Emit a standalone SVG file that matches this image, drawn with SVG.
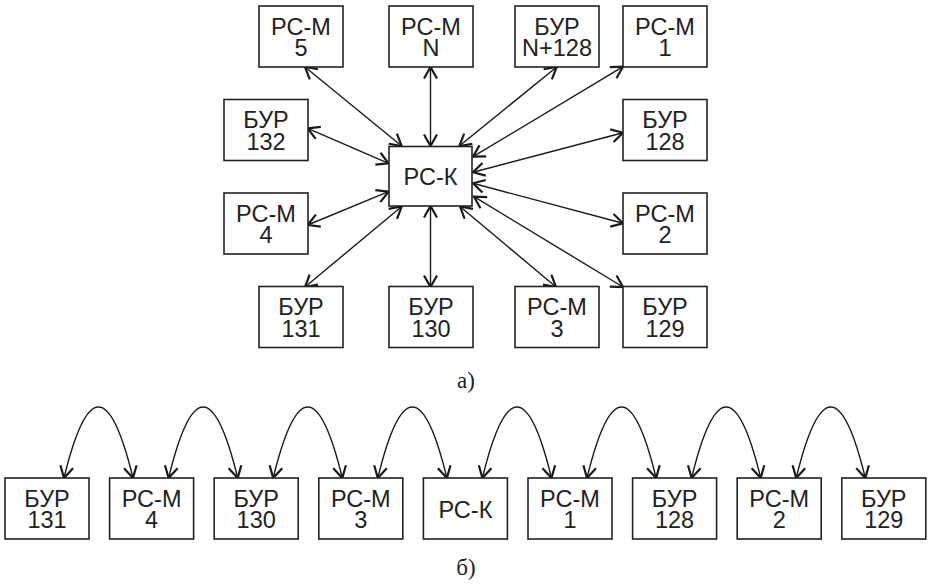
<svg xmlns="http://www.w3.org/2000/svg" width="928" height="584" viewBox="0 0 928 584">
<defs>
<marker id="ah" viewBox="-14 -9 16 18" refX="0" refY="0" markerWidth="16" markerHeight="18" markerUnits="userSpaceOnUse" orient="auto-start-reverse">
<path d="M-11.5,-6.5 L0,0 L-11.5,6.5" fill="none" stroke="#1a1a1a" stroke-width="2.2"/>
</marker>
<style>
.b{fill:#fff;stroke:#222;stroke-width:1.6}
.t{font-family:"Liberation Sans",Arial,sans-serif;font-size:23.5px;fill:#222;text-anchor:middle}
.c{fill:none;stroke:#1a1a1a;stroke-width:1.4;marker-start:url(#ah);marker-end:url(#ah)}
.l{font-family:"Liberation Serif","Times New Roman",serif;font-size:23px;fill:#222;text-anchor:middle}
</style>
</defs>
<rect width="928" height="584" fill="#fff"/>
<g id="connectors">
<line class="c" x1="305" y1="67" x2="401.7" y2="146"/>
<line class="c" x1="430.5" y1="67" x2="430.5" y2="146"/>
<line class="c" x1="307.7" y1="128.3" x2="388.5" y2="163.3"/>
<line class="c" x1="556.7" y1="67" x2="459.3" y2="146"/>
<line class="c" x1="623" y1="66.7" x2="473" y2="156.7"/>
<line class="c" x1="623" y1="132.7" x2="473" y2="172.3"/>
<line class="c" x1="623" y1="223.3" x2="473" y2="183.3"/>
<line class="c" x1="623" y1="287" x2="474" y2="196.7"/>
<line class="c" x1="556" y1="287" x2="460" y2="206.5"/>
<line class="c" x1="430.5" y1="206" x2="430.5" y2="287"/>
<line class="c" x1="305" y1="287" x2="401.7" y2="206.5"/>
<line class="c" x1="307.7" y1="225" x2="388.5" y2="191.7"/>
<path class="c" d="M64,478 Q98.5,336 133,478"/>
<path class="c" d="M168.6,478 Q203.1,336 237.7,478"/>
<path class="c" d="M273.2,478 Q307.8,336 342.3,478"/>
<path class="c" d="M377.8,478 Q412.4,336 446.9,478"/>
<path class="c" d="M482.4,478 Q517,336 551.5,478"/>
<path class="c" d="M587,478 Q621.6,336 656.1,478"/>
<path class="c" d="M691.6,478 Q726.2,336 760.7,478"/>
<path class="c" d="M796.2,478 Q830.8,336 865.3,478"/>
</g>
<g id="rsm5"><rect class="b" x="259" y="6" width="84" height="61"/><text class="t"><tspan x="301" y="34.5">РС-М</tspan><tspan x="301" y="56">5</tspan></text></g>
<g id="rsmN"><rect class="b" x="389" y="6" width="84" height="61"/><text class="t"><tspan x="431" y="34.5">РС-М</tspan><tspan x="431" y="56">N</tspan></text></g>
<g id="burN128"><rect class="b" x="515" y="6" width="84" height="61"/><text class="t"><tspan x="557" y="34.5">БУР</tspan><tspan x="557" y="56">N+128</tspan></text></g>
<g id="rsm1"><rect class="b" x="623" y="6" width="84" height="61"/><text class="t"><tspan x="665" y="34.5">РС-М</tspan><tspan x="665" y="56">1</tspan></text></g>
<g id="bur132"><rect class="b" x="224" y="99.5" width="84" height="61"/><text class="t"><tspan x="266" y="128">БУР</tspan><tspan x="266" y="149.5">132</tspan></text></g>
<g id="bur128"><rect class="b" x="623" y="99.5" width="84" height="61"/><text class="t"><tspan x="665" y="128">БУР</tspan><tspan x="665" y="149.5">128</tspan></text></g>
<g id="rsk"><rect class="b" x="389" y="146.5" width="83" height="59.5" stroke-width="2"/><text class="t" x="430.5" y="185">РС-К</text></g>
<g id="rsm4"><rect class="b" x="224" y="193" width="84" height="61"/><text class="t"><tspan x="266" y="221.5">РС-М</tspan><tspan x="266" y="243">4</tspan></text></g>
<g id="rsm2"><rect class="b" x="623" y="193" width="84" height="61"/><text class="t"><tspan x="665" y="221.5">РС-М</tspan><tspan x="665" y="243">2</tspan></text></g>
<g id="bur131"><rect class="b" x="259" y="286.5" width="84" height="61"/><text class="t"><tspan x="301" y="315">БУР</tspan><tspan x="301" y="336.5">131</tspan></text></g>
<g id="bur130"><rect class="b" x="389" y="286.5" width="84" height="61"/><text class="t"><tspan x="431" y="315">БУР</tspan><tspan x="431" y="336.5">130</tspan></text></g>
<g id="rsm3"><rect class="b" x="515" y="286.5" width="84" height="61"/><text class="t"><tspan x="557" y="315">РС-М</tspan><tspan x="557" y="336.5">3</tspan></text></g>
<g id="bur129"><rect class="b" x="623" y="286.5" width="84" height="61"/><text class="t"><tspan x="665" y="315">БУР</tspan><tspan x="665" y="336.5">129</tspan></text></g>
<text class="l" x="466" y="388">а)</text>
<g id="b-bur131"><rect class="b" x="5" y="478" width="84" height="61"/><text class="t"><tspan x="47" y="506.5">БУР</tspan><tspan x="47" y="528">131</tspan></text></g>
<g id="b-rsm4"><rect class="b" x="109.6" y="478" width="84" height="61"/><text class="t"><tspan x="151.6" y="506.5">РС-М</tspan><tspan x="151.6" y="528">4</tspan></text></g>
<g id="b-bur130"><rect class="b" x="214.2" y="478" width="84" height="61"/><text class="t"><tspan x="256.2" y="506.5">БУР</tspan><tspan x="256.2" y="528">130</tspan></text></g>
<g id="b-rsm3"><rect class="b" x="318.8" y="478" width="84" height="61"/><text class="t"><tspan x="360.8" y="506.5">РС-М</tspan><tspan x="360.8" y="528">3</tspan></text></g>
<g id="b-rsk"><rect class="b" x="423.4" y="478" width="84" height="61"/><text class="t" x="465.4" y="517.5">РС-К</text></g>
<g id="b-rsm1"><rect class="b" x="528" y="478" width="84" height="61"/><text class="t"><tspan x="570" y="506.5">РС-М</tspan><tspan x="570" y="528">1</tspan></text></g>
<g id="b-bur128"><rect class="b" x="632.6" y="478" width="84" height="61"/><text class="t"><tspan x="674.6" y="506.5">БУР</tspan><tspan x="674.6" y="528">128</tspan></text></g>
<g id="b-rsm2"><rect class="b" x="737.2" y="478" width="84" height="61"/><text class="t"><tspan x="779.2" y="506.5">РС-М</tspan><tspan x="779.2" y="528">2</tspan></text></g>
<g id="b-bur129"><rect class="b" x="841.8" y="478" width="84" height="61"/><text class="t"><tspan x="883.8" y="506.5">БУР</tspan><tspan x="883.8" y="528">129</tspan></text></g>
<text class="l" x="466" y="575">б)</text>
</svg>
